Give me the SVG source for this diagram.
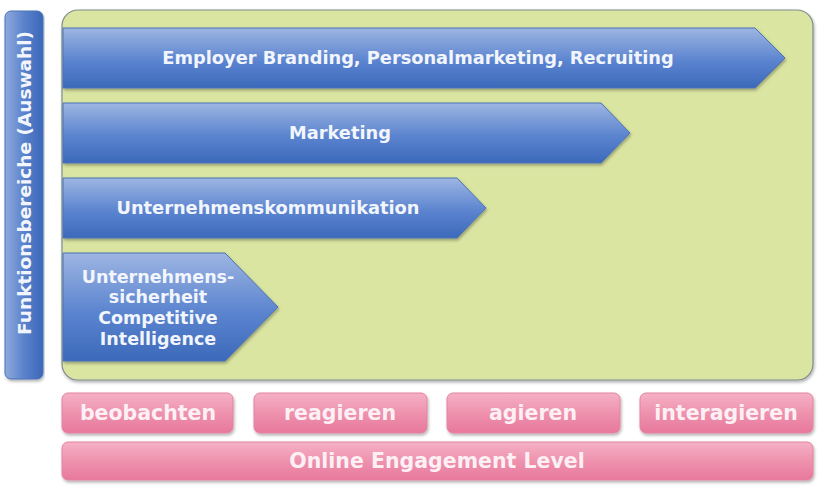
<svg xmlns="http://www.w3.org/2000/svg" width="820" height="489" viewBox="0 0 820 489">
<defs>
<linearGradient id="blue" x1="0" y1="0" x2="0" y2="1">
<stop offset="0" stop-color="#9db5e2"/>
<stop offset="0.55" stop-color="#5b84cf"/>
<stop offset="1" stop-color="#3c69bb"/>
</linearGradient>
<linearGradient id="blueV" x1="0" y1="0" x2="1" y2="0">
<stop offset="0" stop-color="#8fa9dc"/>
<stop offset="0.5" stop-color="#5a82cc"/>
<stop offset="1" stop-color="#3c67b8"/>
</linearGradient>
<linearGradient id="pink" x1="0" y1="0" x2="0" y2="1">
<stop offset="0" stop-color="#f5b1c6"/>
<stop offset="0.5" stop-color="#ee92ae"/>
<stop offset="1" stop-color="#e8789c"/>
</linearGradient>
<filter id="sh" x="-5%" y="-10%" width="110%" height="130%">
<feDropShadow dx="1" dy="2" stdDeviation="1.5" flood-color="#000" flood-opacity="0.3"/>
</filter>
</defs>
<style>
.arrow{fill:url(#blue);stroke:#4a72b8;stroke-width:1;filter:url(#sh)}
.pbox{fill:url(#pink);stroke:#e4839f;stroke-width:1;filter:url(#sh)}
.t{font-family:"DejaVu Sans",Verdana,sans-serif;font-weight:bold;fill:#f2f6fc;text-anchor:middle}
.tp{font-family:"DejaVu Sans",Verdana,sans-serif;font-weight:bold;fill:#fdf0f4;text-anchor:middle}
</style>
<rect width="820" height="489" fill="#ffffff"/>
<g id="axis-y">
<rect x="5" y="11" width="38" height="368" rx="6" fill="url(#blueV)" stroke="#4a72b8" filter="url(#sh)"/>
<text class="t" font-size="18.5" transform="translate(31,183) rotate(-90)">Funktionsbereiche (Auswahl)</text>
</g>
<g id="panel">
<rect x="62" y="10" width="751" height="370" rx="16" fill="#dae5a2" stroke="#7f8c8d" stroke-width="1.2" filter="url(#sh)"/>
</g>
<g id="arrow-employer">
<polygon class="arrow" points="63,28 755,28 785,58 755,88 63,88"/>
<text class="t" x="418" y="64" font-size="17.8">Employer Branding, Personalmarketing, Recruiting</text>
</g>
<g id="arrow-marketing">
<polygon class="arrow" points="63,103 601,103 630,133 601,163 63,163"/>
<text class="t" x="340" y="139" font-size="17.8">Marketing</text>
</g>
<g id="arrow-kommunikation">
<polygon class="arrow" points="63,178 457,178 486,208 457,238 63,238"/>
<text class="t" x="268" y="214" font-size="17.8">Unternehmenskommunikation</text>
</g>
<g id="arrow-sicherheit">
<polygon class="arrow" points="63,253 225,253 278,307 225,361 63,361"/>
<text class="t" font-size="17.5" x="158" y="283">Unternehmens-</text>
<text class="t" font-size="17.5" x="158" y="303">sicherheit</text>
<text class="t" font-size="17.5" x="158" y="324">Competitive</text>
<text class="t" font-size="17.5" x="158" y="345">Intelligence</text>
</g>
<g id="level-beobachten">
<rect class="pbox" x="62" y="393" width="171" height="40" rx="6"/>
<text class="tp" x="148" y="420" font-size="20.5">beobachten</text>
</g>
<g id="level-reagieren">
<rect class="pbox" x="254" y="393" width="173" height="40" rx="6"/>
<text class="tp" x="340" y="420" font-size="20.5">reagieren</text>
</g>
<g id="level-agieren">
<rect class="pbox" x="447" y="393" width="173" height="40" rx="6"/>
<text class="tp" x="533" y="420" font-size="20.5">agieren</text>
</g>
<g id="level-interagieren">
<rect class="pbox" x="640" y="393" width="173" height="40" rx="6"/>
<text class="tp" x="726" y="420" font-size="20.5">interagieren</text>
</g>
<g id="axis-x">
<rect class="pbox" x="62" y="442" width="751" height="38" rx="6"/>
<text class="tp" x="437" y="468" font-size="20.5">Online Engagement Level</text>
</g>
<g id="connectors"></g>
</svg>
